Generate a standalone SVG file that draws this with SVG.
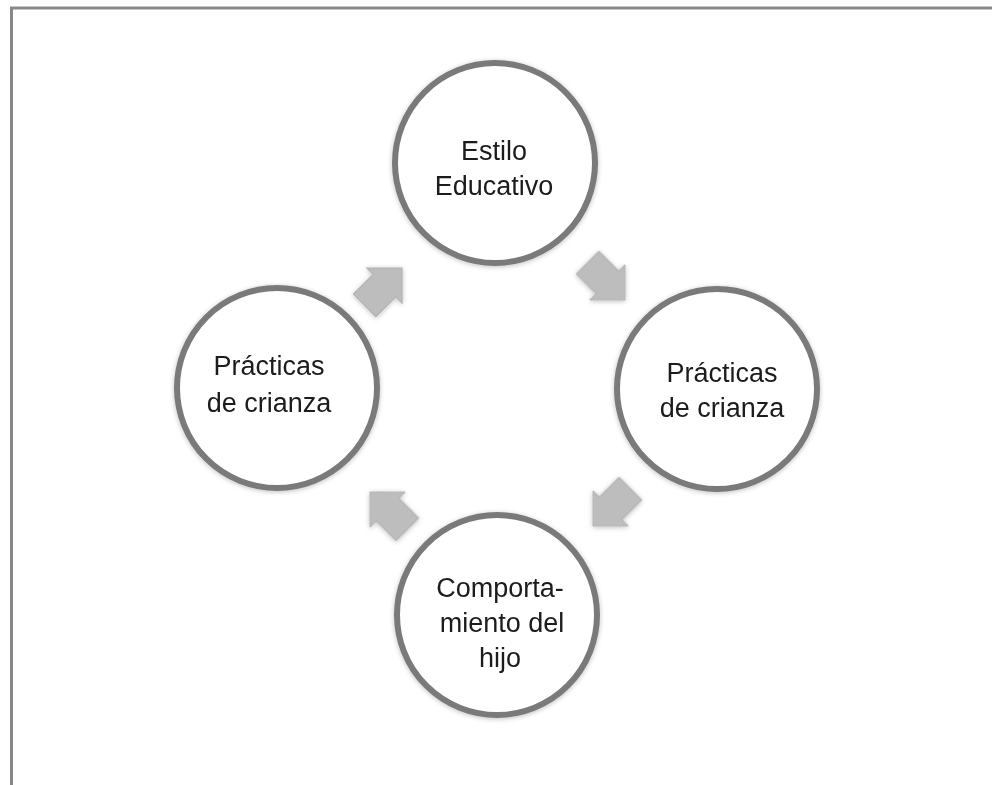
<svg xmlns="http://www.w3.org/2000/svg" width="992" height="785" viewBox="0 0 992 785">
  <defs>
    <filter id="soft" x="-20%" y="-20%" width="140%" height="140%">
      <feGaussianBlur in="SourceAlpha" stdDeviation="2.5"/>
      <feOffset dx="0" dy="1" result="b"/>
      <feComponentTransfer><feFuncA type="linear" slope="0.25"/></feComponentTransfer>
      <feMerge><feMergeNode/><feMergeNode in="SourceGraphic"/></feMerge>
    </filter>
    <path id="arr" d="M -26 -16 L 2 -16 L 2 -25 L 27 0 L 2 25 L 2 16 L -26 16 Z"/>
  </defs>
  <style>
    .ring { fill: #ffffff; stroke: #7a7a7a; stroke-width: 6; }
    .lbl { font-family: "Liberation Sans", Arial, sans-serif; font-size: 27px; fill: #1a1a1a; text-anchor: middle; }
    .ar { fill: #bdbdbd; stroke: #b0b0b0; stroke-width: 1; }
    .frame { fill: none; stroke: #888888; stroke-width: 3; }
  </style>
  <rect width="992" height="785" fill="#ffffff"/>
  <path class="frame" d="M 11.5 785 V 8 H 992"/>

  <g id="connectors" filter="url(#soft)">
    <use href="#arr" class="ar" transform="translate(383,287) rotate(-45)"/>
    <use href="#arr" class="ar" transform="translate(606,281) rotate(45)"/>
    <use href="#arr" class="ar" transform="translate(612,507) rotate(135)"/>
    <use href="#arr" class="ar" transform="translate(389,511) rotate(-135)"/>
  </g>

  <g id="node-estilo" filter="url(#soft)">
    <circle class="ring" cx="495" cy="163" r="100"/>
    <text class="lbl" x="494" y="160">Estilo</text>
    <text class="lbl" x="494" y="195">Educativo</text>
  </g>

  <g id="node-practicas-right" filter="url(#soft)">
    <circle class="ring" cx="717" cy="389" r="100"/>
    <text class="lbl" x="722" y="382">Prácticas</text>
    <text class="lbl" x="722" y="417">de crianza</text>
  </g>

  <g id="node-comportamiento" filter="url(#soft)">
    <circle class="ring" cx="497" cy="615" r="100"/>
    <text class="lbl" x="500" y="597">Comporta-</text>
    <text class="lbl" x="502" y="632">miento del</text>
    <text class="lbl" x="500" y="667">hijo</text>
  </g>

  <g id="node-practicas-left" filter="url(#soft)">
    <circle class="ring" cx="277" cy="388" r="100"/>
    <text class="lbl" x="269" y="375">Prácticas</text>
    <text class="lbl" x="269" y="412">de crianza</text>
  </g>
</svg>
